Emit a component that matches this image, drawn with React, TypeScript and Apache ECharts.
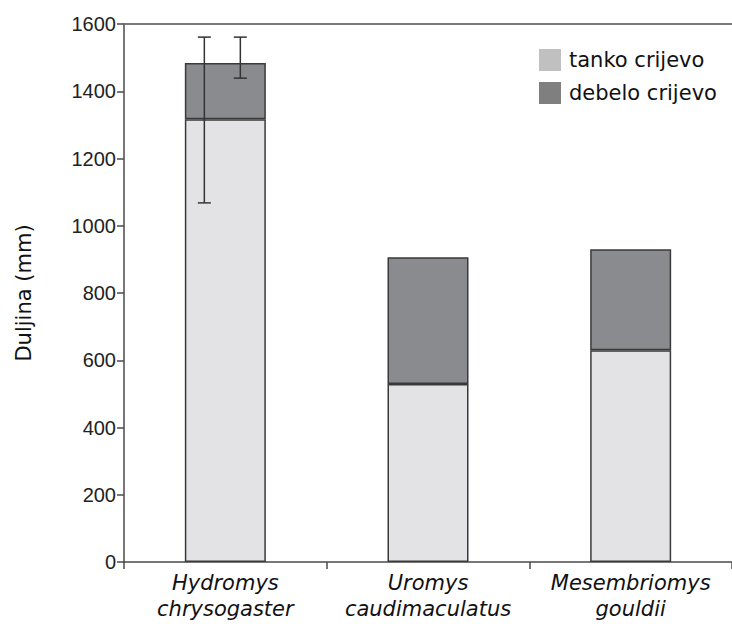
import React, { useEffect, useRef } from "react";
import * as echarts from "echarts";

const categories = ["Hydromys\nchrysogaster", "Uromys\ncaudimaculatus", "Mesembriomys\ngouldii"];
const tanko = [1317, 529, 630];
const total = [1484, 906, 930];
const debelo = total.map((t, i) => t - tanko[i]);
// error bars (low, high) — only the first species has them
const tankoErrLow = [1068, null, null];
const tankoErrHigh = [1561, null, null];
const totalErrLow = [1439, null, null];
const totalErrHigh = [1561, null, null];
const yTicks = [0, 200, 400, 600, 800, 1000, 1200, 1400, 1600];

const FONT = "DejaVu Sans";

function errSeries(low: (number | null)[], high: (number | null)[], offset: number) {
  const data = low
    .map((l, i) => (l == null || high[i] == null ? null : [i, l, high[i]]))
    .filter((d) => d != null);
  return {
    type: "custom",
    silent: true,
    z: 10,
    data,
    renderItem: (params: any, api: any) => {
      const c = api.value(0);
      const lo = api.coord([c, api.value(1)]);
      const hi = api.coord([c, api.value(2)]);
      const x = lo[0] + offset;
      const cap = 6.5;
      const style = { stroke: "#333333", lineWidth: 1.5 };
      return {
        type: "group",
        children: [
          { type: "line", shape: { x1: x, y1: lo[1], x2: x, y2: hi[1] }, style },
          { type: "line", shape: { x1: x - cap, y1: lo[1], x2: x + cap, y2: lo[1] }, style },
          { type: "line", shape: { x1: x - cap, y1: hi[1], x2: x + cap, y2: hi[1] }, style },
        ],
      };
    },
  };
}

export default function App() {
  const ref = useRef<HTMLDivElement>(null);
  useEffect(() => {
    if (!ref.current) return;
    const chart = echarts.init(ref.current, undefined, { renderer: "svg" });
    chart.setOption({
      animation: false,
      backgroundColor: "#ffffff",
      grid: { left: 124, top: 24, right: -8, bottom: 62, containLabel: false },
      legend: {
        left: 534,
        top: 44,
        orient: "vertical",
        itemWidth: 22,
        itemHeight: 22,
        itemGap: 11,
        textStyle: { fontFamily: FONT, fontSize: 21, color: "#111111", padding: [0, 0, 0, 3] },
        data: [
          { name: "tanko crijevo", icon: "rect", itemStyle: { color: "#c0c0c0", borderWidth: 0 } },
          { name: "debelo crijevo", icon: "rect", itemStyle: { color: "#7f7f7f", borderWidth: 0 } },
        ],
      },
      xAxis: [
        {
          type: "category",
          data: categories,
          axisLine: { lineStyle: { color: "#4a4a4a", width: 1.5 } },
          axisTick: { show: true, length: 7, lineStyle: { color: "#4a4a4a", width: 1.5 } },
          axisLabel: {
            interval: 0,
            hideOverlap: false,
            fontFamily: FONT,
            fontStyle: "italic",
            fontSize: 21,
            color: "#111111",
            lineHeight: 26,
            margin: 8,
          },
        },
        {
          type: "category",
          position: "top",
          data: categories,
          axisLine: { show: true, lineStyle: { color: "#7a7a7a", width: 2 } },
          axisTick: { show: false },
          axisLabel: { show: false },
        },
      ],
      yAxis: {
        type: "value",
        min: yTicks[0],
        max: yTicks[yTicks.length - 1],
        interval: 200,
        name: "Duljina (mm)",
        nameLocation: "middle",
        nameGap: 90,
        nameTextStyle: { fontFamily: FONT, fontSize: 21, color: "#111111" },
        axisLine: { show: true, lineStyle: { color: "#4a4a4a", width: 1.5 } },
        axisTick: { show: true, length: 7, lineStyle: { color: "#4a4a4a", width: 1.5 } },
        axisLabel: {
          fontFamily: "Liberation Sans",
          fontSize: 20,
          color: "#222222",
          margin: 8,
          formatter: (v: number) => String(v),
        },
        splitLine: { show: false },
      },
      series: [
        {
          name: "tanko crijevo",
          type: "bar",
          stack: "a",
          barWidth: 81,
          data: tanko,
          itemStyle: { color: "#e3e3e5", borderColor: "#3a3a3a", borderWidth: 1.5 },
        },
        {
          name: "debelo crijevo",
          type: "bar",
          stack: "a",
          barWidth: 81,
          data: debelo,
          itemStyle: { color: "#8a8b8e", borderColor: "#3a3a3a", borderWidth: 1.5 },
        },
        errSeries(tankoErrLow, tankoErrHigh, -21),
        errSeries(totalErrLow, totalErrHigh, 15),
      ],
    });
    return () => chart.dispose();
  }, []);
  return (
    <div
      ref={ref}
      style={{ position: "fixed", left: 0, top: 0, width: 732, height: 624 }}
    />
  );
}
